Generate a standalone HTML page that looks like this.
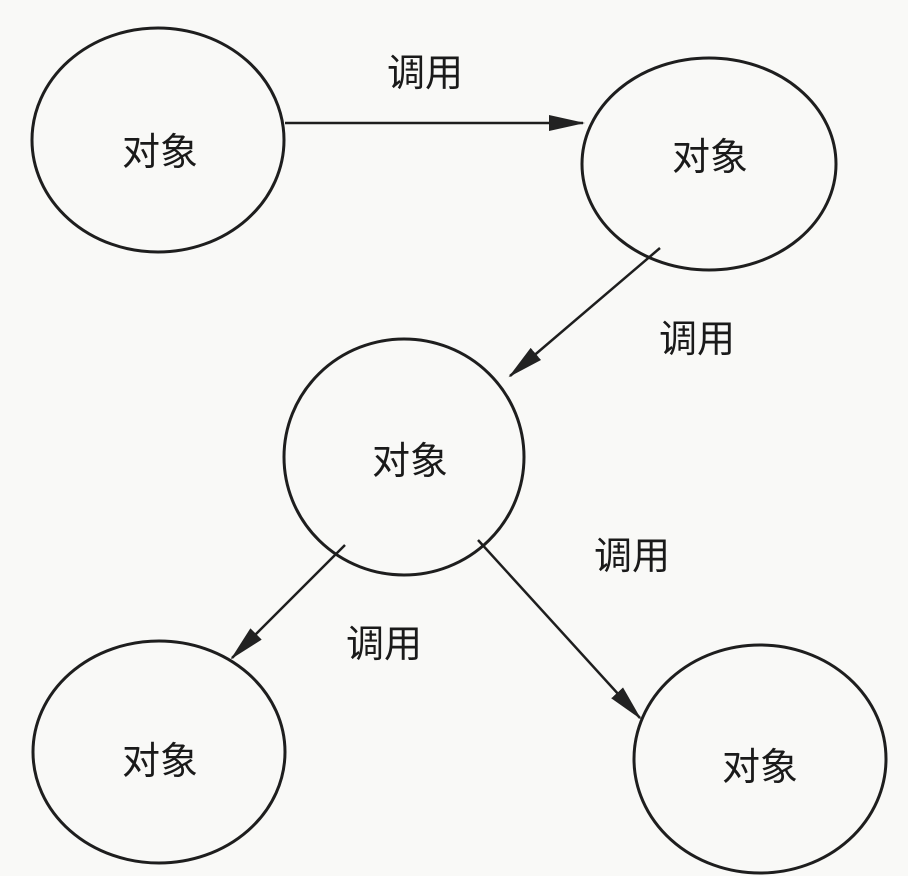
<!DOCTYPE html>
<html><head><meta charset="utf-8"><style>
html,body{margin:0;padding:0;background:#f9f9f7;}
svg{display:block}
text{font-family:"Liberation Sans","Noto Sans CJK SC",sans-serif;fill:#1a1a1a;text-anchor:middle;dominant-baseline:central}
</style></head><body>
<svg width="908" height="876" viewBox="0 0 908 876">
<defs><marker id="a" markerWidth="12" markerHeight="10" refX="11" refY="5" orient="auto" markerUnits="userSpaceOnUse" viewBox="0 0 12 10"><path d="M0,0 L12,5 L0,10 Z" fill="#222"/></marker>
<marker id="b" markerWidth="36" markerHeight="16" refX="34" refY="8" orient="auto" markerUnits="userSpaceOnUse" viewBox="0 0 36 16"><path d="M0,0 L36,8 L0,16 Z" fill="#222"/></marker></defs>
<g fill="none" stroke="#1e1e1e" stroke-width="3">
<ellipse cx="158" cy="140" rx="126" ry="112"/>
<ellipse cx="709" cy="164" rx="127" ry="106"/>
<ellipse cx="404" cy="457" rx="120" ry="118"/>
<ellipse cx="159" cy="752" rx="126" ry="111"/>
<ellipse cx="760" cy="759" rx="126" ry="114"/>
<line x1="285" y1="123" x2="583" y2="123" marker-end="url(#b)" stroke-width="2.5"/>
<line x1="660" y1="248" x2="510" y2="376" marker-end="url(#b)" stroke-width="2.5"/>
<line x1="345" y1="545" x2="232" y2="658" marker-end="url(#b)" stroke-width="2.5"/>
<line x1="478" y1="540" x2="640" y2="718" marker-end="url(#b)" stroke-width="2.5"/>
</g>
<g font-size="38">
<text x="160" y="153">对象</text>
<text x="710" y="158">对象</text>
<text x="410" y="462">对象</text>
<text x="160" y="762">对象</text>
<text x="760" y="768">对象</text>
<text x="425" y="74">调用</text>
<text x="697" y="340">调用</text>
<text x="632" y="557">调用</text>
<text x="384" y="645">调用</text>
</g>
</svg>
</body></html>
